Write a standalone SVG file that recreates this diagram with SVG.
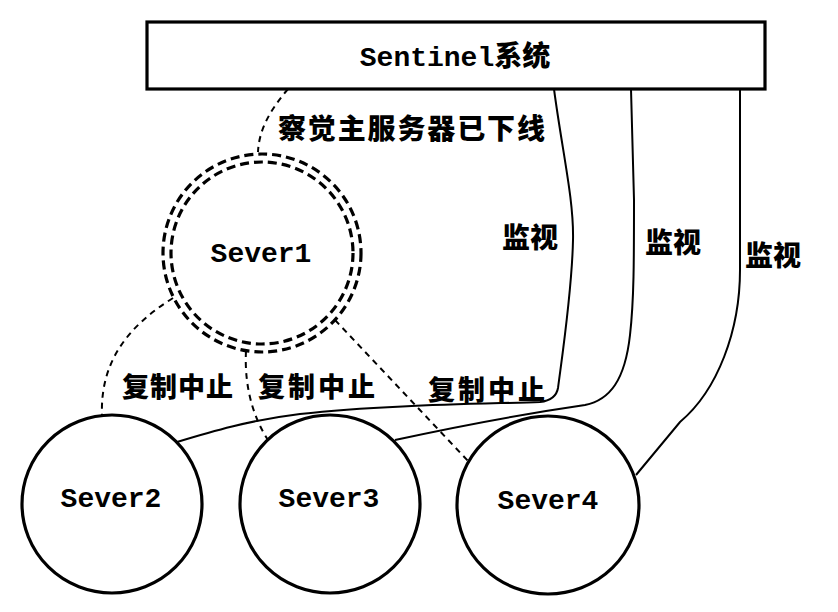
<svg xmlns="http://www.w3.org/2000/svg" width="838" height="612" viewBox="0 0 838 612">
<style>
.bg{fill:#ffffff}
.box{fill:#ffffff;stroke:#000;stroke-width:3.2}
.node{fill:#ffffff;stroke:#000;stroke-width:3.2}
.ring{fill:none;stroke:#000;stroke-width:3.2;stroke-dasharray:9 5}
.solid{fill:none;stroke:#000;stroke-width:2}
.dash{fill:none;stroke:#000;stroke-width:2;stroke-dasharray:6 5}
.mono{font-family:"Liberation Mono","DejaVu Sans Mono",monospace;font-size:28px;font-weight:bold;fill:#000}
.cjk{font-family:"Noto Sans CJK SC","Noto Sans CJK TC",sans-serif;font-weight:900;fill:#000}
</style>
<rect class="bg" x="0" y="0" width="838" height="612"/>
<g id="connectors">
  <path class="dash" d="M288,89 C272,108 259,128 258,152"/>
  <path class="solid" d="M554,89 C562,150 574,200 573,240 C572,290 563,350 558,388 Q556,400 540,402 C480,404 380,405 300,414 C250,420 210,432 177,442"/>
  <path class="solid" d="M631,89 L634,200 C634,260 634,300 630,335 C625,380 610,400 585,405 C530,413 450,428 395,440"/>
  <path class="solid" d="M740,89 L740,270 C740,330 718,390 680,422 L636,475"/>
  <path class="dash" d="M173,298 C130,325 100,360 102,415"/>
  <path class="dash" d="M246,351 C244,390 255,420 268,440"/>
  <path class="dash" d="M335,320 L469,462"/>
</g>
<g id="sentinel">
  <rect class="box" x="147" y="22" width="618" height="67"/>
  <text x="455" y="66" text-anchor="middle"><tspan class="mono">Sentinel</tspan><tspan class="cjk" font-size="28">系统</tspan></text>
</g>
<g id="sever1">
  <circle class="ring" cx="262" cy="253" r="99"/>
  <circle class="ring" cx="262" cy="253" r="91"/>
  <text class="mono" x="261" y="262" text-anchor="middle">Sever1</text>
</g>
<g id="sever2">
  <ellipse class="node" cx="112" cy="504" rx="90" ry="89"/>
  <text class="mono" x="111" y="507" text-anchor="middle">Sever2</text>
</g>
<g id="sever3">
  <ellipse class="node" cx="330" cy="504" rx="90" ry="89"/>
  <text class="mono" x="329" y="507" text-anchor="middle">Sever3</text>
</g>
<g id="sever4">
  <ellipse class="node" cx="548" cy="505" rx="91" ry="89"/>
  <text class="mono" x="548" y="509" text-anchor="middle">Sever4</text>
</g>
<g id="labels">
  <text class="cjk" x="278" y="139" font-size="28" textLength="267" lengthAdjust="spacing">察觉主服务器已下线</text>
  <text class="cjk" x="122" y="397" font-size="27" textLength="111" lengthAdjust="spacing">复制中止</text>
  <text class="cjk" x="258" y="397" font-size="27" textLength="117" lengthAdjust="spacing">复制中止</text>
  <text class="cjk" x="428" y="400" font-size="27" textLength="117" lengthAdjust="spacing">复制中止</text>
  <text class="cjk" x="502" y="248" font-size="28">监视</text>
  <text class="cjk" x="645" y="253" font-size="28">监视</text>
  <text class="cjk" x="745" y="266" font-size="28">监视</text>
</g>
</svg>
